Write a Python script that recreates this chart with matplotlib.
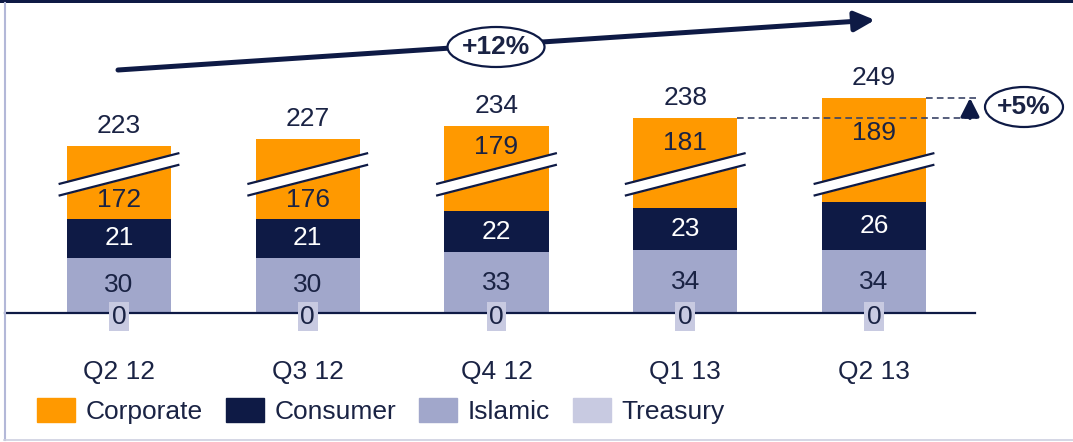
import numpy as np
import matplotlib.pyplot as plt
from matplotlib.patches import Patch, Ellipse, Rectangle
from matplotlib.lines import Line2D

plt.rcParams['font.family'] = ['Liberation Sans', 'DejaVu Sans']

# data
quarters = ['Q2 12', 'Q3 12', 'Q4 12', 'Q1 13', 'Q2 13']
corporate = [172, 176, 179, 181, 189]
consumer = [21, 21, 22, 23, 26]
islamic = [30, 30, 33, 34, 34]
treasury = [0, 0, 0, 0, 0]
totals = [223, 227, 234, 238, 249]
growth_year = '+12%'
growth_quarter = '+5%'

# colours
ORANGE = '#FF9900'
NAVY = '#0E1A45'
ISL_C = '#A1A7CB'
TRE_C = '#C8CAE1'
TXT = '#1A2344'

W, H = 1073, 442
PX = 1.846      # pixels per unit on the value axis
STEP = 188.75   # pixels between bars
CUT = 132.5     # part of the corporate bar hidden by the break
FS = 19

fig = plt.figure(figsize=(W / 100, H / 100), dpi=100)
ax = fig.add_axes([0, 0, 1, 1])
ax.set_xlim(-119 / STEP, (W - 119) / STEP)
ax.set_ylim(-(H - 313) / PX, 313 / PX)
ax.axis('off')

x = np.arange(len(quarters))
bw = 0.553
tre = np.array(treasury, float)
isl = np.array(islamic, float)
con = np.array(consumer, float)
corp_shown = np.array(corporate, float) - CUT

b_isl = tre
b_con = b_isl + isl
b_corp = b_con + con
tops = b_corp + corp_shown

ax.bar(x, tre, bw, color=TRE_C, zorder=2)
ax.bar(x, isl, bw, bottom=b_isl, color=ISL_C, zorder=2)
ax.bar(x, con, bw, bottom=b_con, color=NAVY, zorder=2)
ax.bar(x, corp_shown, bw, bottom=b_corp, color=ORANGE, zorder=2)

# baseline
ax.axhline(0, xmin=5 / W, xmax=975 / W, color=NAVY, lw=1.6, zorder=3)

# axis break marks
brk_y, brk_h, brk_rise, brk_half = 75.1, 3.15, 8.4, 0.32
for xi in x:
    xs = [xi - brk_half, xi + brk_half]
    lo = [brk_y - brk_h - brk_rise, brk_y - brk_h + brk_rise]
    hi = [brk_y + brk_h - brk_rise, brk_y + brk_h + brk_rise]
    ax.fill_between(xs, lo, hi, color='white', lw=0, zorder=3)
    ax.plot(xs, lo, color=NAVY, lw=1.6, zorder=4, solid_capstyle='butt')
    ax.plot(xs, hi, color=NAVY, lw=1.6, zorder=4, solid_capstyle='butt')

# labels
for i, xi in enumerate(x):
    ax.annotate(str(totals[i]), (xi, tops[i]), xytext=(0, 14.4),
                textcoords='offset points', ha='center', va='center',
                fontsize=FS, color=TXT)
    # corporate label on the side of the break with more room
    room_above = tops[i] - (brk_y + brk_h)
    room_below = (brk_y - brk_h) - b_corp[i]
    if room_above > room_below:
        yl = (tops[i] + brk_y + brk_h) / 2
    else:
        yl = (b_corp[i] + brk_y - brk_h) / 2
    ax.text(xi, yl, str(corporate[i]), ha='center', va='center',
            fontsize=FS, color=TXT, zorder=5)
    ax.text(xi, b_con[i] + con[i] / 2, str(consumer[i]), ha='center',
            va='center', fontsize=FS, color='white', zorder=5)
    ax.text(xi, b_isl[i] + isl[i] / 2, str(islamic[i]), ha='center',
            va='center', fontsize=FS, color=TXT, zorder=5)
    ax.text(xi, -2, str(treasury[i]), ha='center', va='center',
            fontsize=FS, color=TXT, zorder=6,
            bbox=dict(boxstyle='square,pad=0.1', fc=TRE_C, ec='none'))
    ax.text(xi, -32, quarters[i], ha='center', va='center',
            fontsize=FS, color=TXT)

# long trend arrow
ax.annotate('', xy=(875 / W, 1 - 20 / H), xytext=(118 / W, 1 - 70 / H),
            xycoords='axes fraction', textcoords='axes fraction',
            arrowprops=dict(arrowstyle='-|>,head_length=0.61,head_width=0.3',
                            mutation_scale=20, lw=3.6, color=NAVY,
                            shrinkA=0, shrinkB=0))
ax.add_patch(Ellipse((496 / W, 1 - 47 / H), 97 / W, 40 / H,
                     transform=ax.transAxes, fc='white', ec=NAVY,
                     lw=1.6, zorder=5))
ax.text(496 / W, 1 - 47 / H, growth_year, transform=ax.transAxes,
        ha='center', va='center', fontsize=FS, fontweight='bold',
        color=TXT, zorder=6)

# quarter-on-quarter growth marker
x_end = (977 - 119) / STEP
x_arr = (970 - 119) / STEP
ax.plot([x[4] + bw / 2, x_end], [tops[4]] * 2, ls=(0, (4, 2.5)),
        color='#3A4366', lw=1.2)
ax.plot([x[3] + bw / 2, x_end], [tops[3]] * 2, ls=(0, (4, 2.5)),
        color='#3A4366', lw=1.2)
ax.annotate('', xy=(x_arr, tops[4]), xytext=(x_arr, tops[3]),
            arrowprops=dict(arrowstyle='-|>,head_length=0.55,head_width=0.28',
                            mutation_scale=20, lw=2.5, color=NAVY,
                            shrinkA=0, shrinkB=0))
ax.add_patch(Ellipse((1024 / W, 1 - 107 / H), 78 / W, 40 / H,
                     transform=ax.transAxes, fc='white', ec=NAVY,
                     lw=1.6, zorder=5))
ax.text(1024 / W, 1 - 107 / H, growth_quarter, transform=ax.transAxes,
        ha='center', va='center', fontsize=FS, fontweight='bold',
        color=TXT, zorder=6)

# legend
handles = [Patch(color=ORANGE, label='Corporate'),
           Patch(color=NAVY, label='Consumer'),
           Patch(color=ISL_C, label='Islamic'),
           Patch(color=TRE_C, label='Treasury')]
leg = fig.legend(handles=handles, ncol=4, loc='center left',
                 bbox_to_anchor=(37 / W, 1 - 411 / H), frameon=False,
                 fontsize=FS, handlelength=1.44, handleheight=1.06,
                 handletextpad=0.42, columnspacing=0.85,
                 borderpad=0, borderaxespad=0)
for t in leg.get_texts():
    t.set_color(TXT)

# frame
fig.add_artist(Rectangle((0, 1 - 3 / H), 1, 3 / H, transform=fig.transFigure,
                         color=NAVY, lw=0))
fig.add_artist(Line2D([4.5 / W, 4.5 / W], [2 / H, 1 - 3 / H],
                      transform=fig.transFigure, color='#B3B8D8', lw=1.5))
fig.add_artist(Line2D([4 / W, 1], [2.5 / H, 2.5 / H],
                      transform=fig.transFigure, color='#CDD0E0', lw=1.2))

fig.savefig('out.png', dpi=100)
